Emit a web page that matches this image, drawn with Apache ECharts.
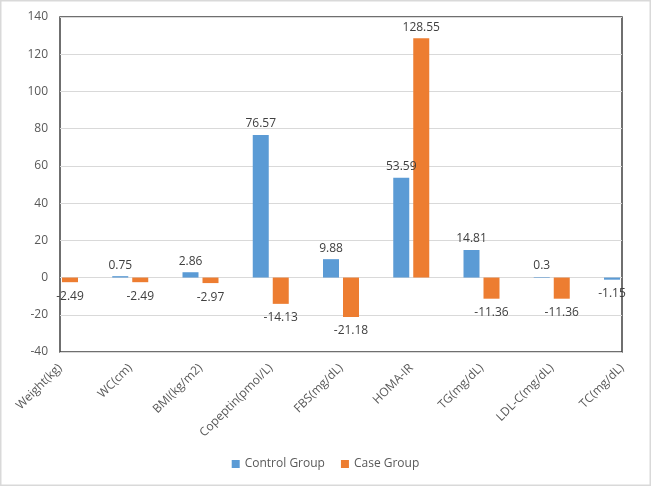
<!DOCTYPE html>
<html>
<head>
<meta charset="utf-8">
<script src="https://cdn.jsdelivr.net/npm/echarts@6/dist/echarts.min.js"></script>
<style>html,body{margin:0;padding:0;background:#fff}#c{width:651px;height:486px}</style>
</head>
<body>
<div id="c"></div>
<script>
const categories = ['Weight(kg)', 'WC(cm)', 'BMI(kg/m2)', 'Copeptin(pmol/L)', 'FBS(mg/dL)', 'HOMA-IR', 'TG(mg/dL)', 'LDL-C(mg/dL)', 'TC(mg/dL)'];
const controlGroup = [null, 0.75, 2.86, 76.57, 9.88, 53.59, 14.81, 0.3, -1.15];
const caseGroup = [-2.49, -2.49, -2.97, -14.13, -21.18, 128.55, -11.36, -11.36, null];
const yMin = -40, yMax = 140, yStep = 20;

function items(arr) {
  return arr.map(v => v === null ? '-' : {
    value: v,
    label: { position: v < 0 ? 'bottom' : 'top', distance: v < 0 ? 8 : 5 }
  });
}
const font = 'Open Sans';
const chart = echarts.init(document.getElementById('c'));
chart.setOption({
  backgroundColor: '#fff',
  animation: false,
  textStyle: { fontFamily: font },
  graphic: [{ type: 'rect', shape: { x: 0.75, y: 0.75, width: 649.5, height: 484.5 }, style: { fill: 'none', stroke: '#d9d9d9', lineWidth: 1.5 }, silent: true }],
  grid: { left: 60, right: 29, top: 17, bottom: 134, show: true, borderColor: '#404040', borderWidth: 1.5, backgroundColor: 'transparent' },
  legend: {
    bottom: 11, left: 'center', icon: 'rect', itemWidth: 8, itemHeight: 8, itemGap: 16,
    textStyle: { color: '#595959', fontSize: 12, fontFamily: font },
    data: ['Control Group', 'Case Group']
  },
  xAxis: {
    type: 'category', data: categories, boundaryGap: false,
    axisLine: { show: false }, axisTick: { show: false },
    axisLabel: { rotate: 45, color: '#595959', fontSize: 12, margin: 14, interval: 0, fontFamily: font },
    splitLine: { show: false }
  },
  yAxis: {
    type: 'value', min: yMin, max: yMax, interval: yStep,
    axisLine: { show: false }, axisTick: { show: false },
    axisLabel: { color: '#595959', fontSize: 12, margin: 12, fontFamily: font },
    splitLine: { lineStyle: { color: '#d9d9d9', width: 1 } }
  },
  series: [
    { name: 'Control Group', type: 'bar', data: items(controlGroup), barWidth: 16, barGap: '25%', clip: true,
      itemStyle: { color: '#5B9BD5' },
      label: { show: true, color: '#404040', fontSize: 12, fontFamily: font } },
    { name: 'Case Group', type: 'bar', data: items(caseGroup), barWidth: 16, barGap: '25%', clip: true,
      itemStyle: { color: '#ED7D31' },
      label: { show: true, color: '#404040', fontSize: 12, fontFamily: font } }
  ]
});
</script>
</body>
</html>
